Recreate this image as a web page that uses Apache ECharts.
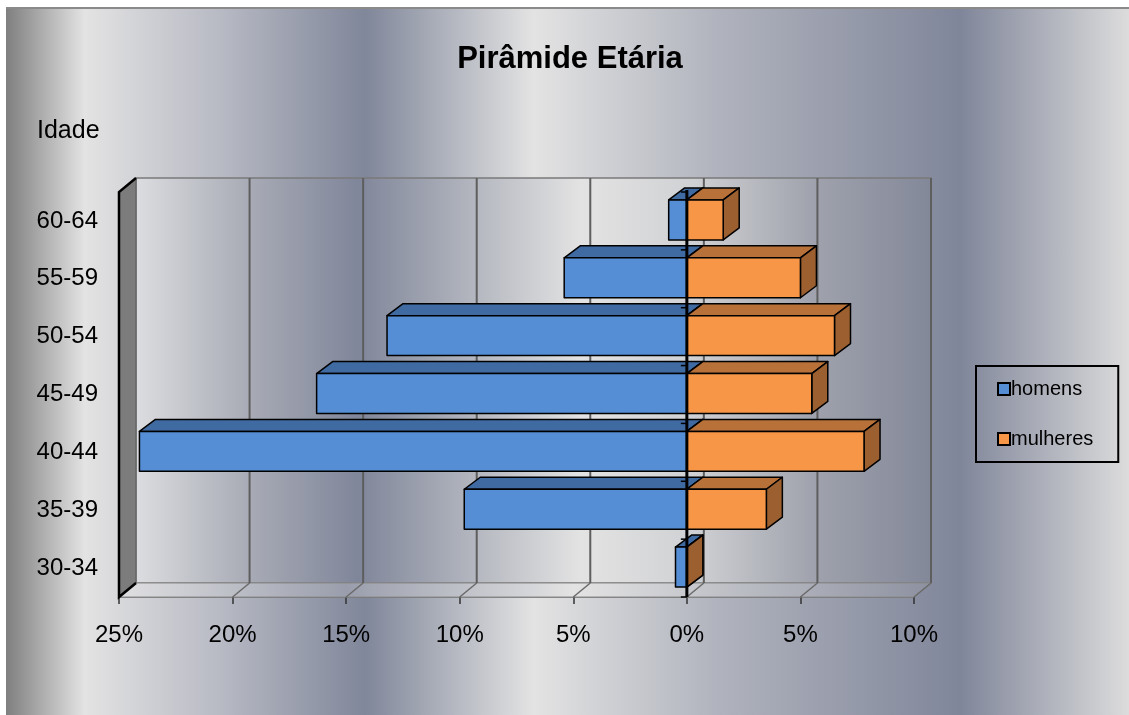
<!DOCTYPE html>
<html>
<head>
<meta charset="utf-8">
<script src="https://cdn.jsdelivr.net/npm/echarts@6/dist/echarts.min.js"></script>
<style>
html,body{margin:0;padding:0;background:#fff;width:1129px;height:715px;overflow:hidden;}
#bg{position:absolute;left:6px;top:7px;right:0;bottom:0;border-top:2px solid #8a8a8a;
background:linear-gradient(to right,#7f7f7f 0%,#e3e3e3 7%,#b8bac4 19%,#80879a 32%,#e3e3e3 47%,#b0b3bd 63.5%,#80869a 85%,#dcdcdc 100%);}
#chart{position:absolute;left:0;top:0;width:1129px;height:715px;}
</style>
</head>
<body>
<div id="bg"></div>
<div id="chart"></div>
<script>
// ---- data ----
const categories = ['30-34', '35-39', '40-44', '45-49', '50-54', '55-59', '60-64'];
const homens = [0.5, 9.8, 24.1, 16.3, 13.2, 5.4, 0.8];      // % (drawn to the left)
const mulheres = [0.0, 3.5, 7.8, 5.5, 6.5, 5.0, 1.6];       // %
const xTicks = [-25, -20, -15, -10, -5, 0, 5, 10];
const titleText = 'Pirâmide Etária';
const yTitle = 'Idade';
const seriesNames = ['homens', 'mulheres'];

const FONT = 'Liberation Sans, Arial, sans-serif';
const WALL_DX = 17, WALL_DY = -14;
const BAR_DX = 16, BAR_DY = -12;

function bar3d(front, top, side) {
  return function (params, api) {
    const ci = api.value(0);
    const v = api.value(1);
    const p0 = api.coord([0, ci]);
    const p1 = api.coord([v, ci]);
    const h = api.size([0, 1])[1] * 0.69;
    const y0 = p0[1] - h / 2 - 1, y1 = y0 + h;
    const xa = Math.min(p0[0], p1[0]), xb = Math.max(p0[0], p1[0]);
    const st = { stroke: '#000', lineWidth: 1.5, lineJoin: 'round' };
    return {
      type: 'group',
      children: [
        { type: 'polygon', shape: { points: [[xa, y0], [xa + BAR_DX, y0 + BAR_DY], [xb + BAR_DX, y0 + BAR_DY], [xb, y0]] },
          style: Object.assign({ fill: top }, st) },
        { type: 'polygon', shape: { points: [[xb, y0], [xb + BAR_DX, y0 + BAR_DY], [xb + BAR_DX, y1 + BAR_DY], [xb, y1]] },
          style: Object.assign({ fill: side }, st) },
        { type: 'rect', shape: { x: xa, y: y0, width: xb - xa, height: h },
          style: Object.assign({ fill: front }, st) }
      ]
    };
  };
}

function wallItem(params, api) {
  const cs = params.coordSys;
  const x = cs.x, y = cs.y, w = cs.width, h = cs.height;
  const t = api.value(0);
  const xt = api.coord([t, 0])[0];
  const children = [];
  if (params.dataIndex === 0) {
    children.push({ type: 'rect', shape: { x: x + WALL_DX, y: y + WALL_DY, width: w, height: h },
      style: { fill: new echarts.graphic.LinearGradient(0, 0, 1, 0, [
        { offset: 0, color: '#dcdde0' }, { offset: 0.14, color: '#a9acb6' },
        { offset: 0.28, color: '#80869a' }, { offset: 0.43, color: '#b5b8c0' },
        { offset: 0.56, color: '#e3e3e3' }, { offset: 0.70, color: '#d0d1d4' },
        { offset: 0.85, color: '#a0a3ad' }, { offset: 1, color: '#838899' }]),
        stroke: '#7a7a7a', lineWidth: 1.5 } });
    children.push({ type: 'polygon', shape: { points: [[x, y + h], [x + WALL_DX, y + h + WALL_DY], [x + w + WALL_DX, y + h + WALL_DY], [x + w, y + h]] },
      style: { fill: new echarts.graphic.LinearGradient(0, 0, 1, 0, [
        { offset: 0, color: '#e0e0e2' }, { offset: 0.28, color: '#9a9eac' },
        { offset: 0.56, color: '#e3e3e3' }, { offset: 1, color: '#8d91a0' }]),
        stroke: '#8a8a8a', lineWidth: 1 } });
    children.push({ type: 'polygon', shape: { points: [[x, y], [x + WALL_DX, y + WALL_DY], [x + WALL_DX, y + h + WALL_DY], [x, y + h]] },
      style: { fill: '#7c7c7c', stroke: '#5a5a5a', lineWidth: 1 } });
    children.push({ type: 'polyline', shape: { points: [[x + WALL_DX, y + WALL_DY], [x, y], [x, y + h], [x + WALL_DX, y + h + WALL_DY]] },
      style: { fill: null, stroke: '#000', lineWidth: 2.5 } });
  }
  if (params.dataIndex !== 0) {
    children.push({ type: 'line', shape: { x1: xt + WALL_DX, y1: y + WALL_DY, x2: xt + WALL_DX, y2: y + h + WALL_DY },
      style: { stroke: '#5e5e5e', lineWidth: 2 } });
    children.push({ type: 'line', shape: { x1: xt, y1: y + h, x2: xt + WALL_DX, y2: y + h + WALL_DY },
      style: { stroke: '#6a6a6a', lineWidth: 1.5 } });
  }
  return { type: 'group', children: children };
}

function zeroLine(params, api) {
  const cs = params.coordSys;
  const x0 = api.coord([0, 0])[0];
  const children = [{ type: 'line', shape: { x1: x0, y1: cs.y - 2, x2: x0, y2: cs.y + cs.height },
    style: { stroke: '#000', lineWidth: 3 } }];
  const n = categories.length;
  for (let k = 0; k <= n; k++) {
    const yy = cs.y + cs.height * k / n;
    children.push({ type: 'line', shape: { x1: x0 - 6, y1: yy, x2: x0, y2: yy }, style: { stroke: '#000', lineWidth: 1.5 } });
  }
  return { type: 'group', children: children };
}

const chart = echarts.init(document.getElementById('chart'), null, { renderer: 'canvas' });
chart.setOption({
  backgroundColor: 'transparent',
  animation: false,
  title: [
    { text: titleText, left: 565, top: 39, textAlign: 'center',
      textStyle: { fontFamily: FONT, fontSize: 31, fontWeight: 'bold', color: '#000' } },
    { text: yTitle, left: 32, top: 114,
      textStyle: { fontFamily: FONT, fontSize: 25, fontWeight: 'normal', color: '#000' } }
  ],
  legend: {
    data: seriesNames,
    orient: 'vertical',
    left: 976, top: 366,
    itemWidth: 12, itemHeight: 12, itemGap: 30,
    padding: [13, 25, 13, 21],
    borderColor: '#000', borderWidth: 2,
    icon: 'rect',
    itemStyle: { borderColor: '#000', borderWidth: 2 },
    textStyle: { fontFamily: FONT, fontSize: 20, color: '#000', padding: [0, 0, 0, -4] }
  },
  grid: { left: 119, right: 215, top: 192, bottom: 118, containLabel: false },
  xAxis: {
    type: 'value', min: -25, max: 10, interval: 5,
    axisLine: { show: true, lineStyle: { color: '#666', width: 1.5 } },
    axisTick: { show: true, length: 7, lineStyle: { color: '#333', width: 1.5 } },
    splitLine: { show: false },
    axisLabel: { formatter: v => Math.abs(v) + '%', fontFamily: FONT, fontSize: 24, color: '#000', margin: 26 }
  },
  yAxis: {
    type: 'category', data: categories,
    axisLine: { show: false }, axisTick: { show: false },
    axisLabel: { fontFamily: FONT, fontSize: 24, color: '#000', margin: 21 }
  },
  series: [
    { type: 'custom', name: '_walls', z: 1, silent: true, renderItem: wallItem,
      encode: { x: 0, y: 1 }, data: xTicks.map(t => [t, 0]) },
    { type: 'custom', name: seriesNames[0], z: 2, renderItem: bar3d('#558ed5', '#406ba2', '#3a5f8f'),
      itemStyle: { color: '#558ed5' }, encode: { x: 1, y: 0 },
      data: homens.map((v, i) => [i, -v]) },
    { type: 'custom', name: seriesNames[1], z: 3, renderItem: bar3d('#f79646', '#b9713a', '#9c6030'),
      itemStyle: { color: '#f79646' }, encode: { x: 1, y: 0 },
      data: mulheres.map((v, i) => [i, v]) },
    { type: 'custom', name: '_zero', z: 4, silent: true, renderItem: zeroLine,
      encode: { x: 0, y: 1 }, data: [[0, 0]] }
  ]
});
</script>
</body>
</html>
